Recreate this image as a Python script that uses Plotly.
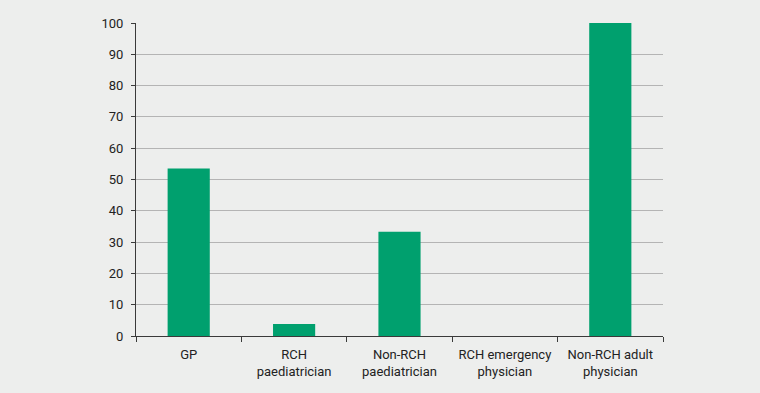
import plotly.graph_objects as go

categories = ["GP", "RCH<br>paediatrician", "Non-RCH<br>paediatrician",
              "RCH emergency<br>physician", "Non-RCH adult<br>physician"]
values = [53.5, 3.8, 33.3, 0, 100]
y_ticks = [0, 10, 20, 30, 40, 50, 60, 70, 80, 90, 100]

bg = "#edeeed"
fnt = "Roboto, Liberation Sans, Arial, sans-serif"
fig = go.Figure(go.Bar(
    x=categories, y=values,
    marker=dict(color="#00a06e", line=dict(width=0)),
    width=0.4,
))
fig.update_layout(
    width=760, height=393,
    paper_bgcolor=bg, plot_bgcolor=bg,
    margin=dict(l=136, r=97, t=23, b=57),
    font=dict(family=fnt, size=13, color="#222"),
    showlegend=False,
    bargap=0.6,
)
fig.update_xaxes(
    showline=True, linecolor="#3a3a3a", linewidth=1.2,
    ticks="outside", tickson="boundaries", ticklen=5, tickcolor="#3a3a3a",
    showgrid=False, tickangle=0, automargin=False, ticklabelstandoff=6,
    tickfont=dict(family=fnt, size=13, color="#222"),
)
fig.update_yaxes(
    range=[0, 100], tickvals=y_ticks, showline=True, linecolor="#3a3a3a", linewidth=1.2,
    ticks="outside", ticklen=4, tickcolor="#3a3a3a", automargin=False,
    ticklabelstandoff=5,
    showgrid=True, gridcolor="#b4b4b4", gridwidth=1, zeroline=False,
    tickfont=dict(family=fnt, size=13, color="#222"),
)
fig.write_html(
    "out.html",
    config={"displayModeBar": False},
    post_script="document.body.style.margin='0';document.body.style.overflow='hidden';",
)
